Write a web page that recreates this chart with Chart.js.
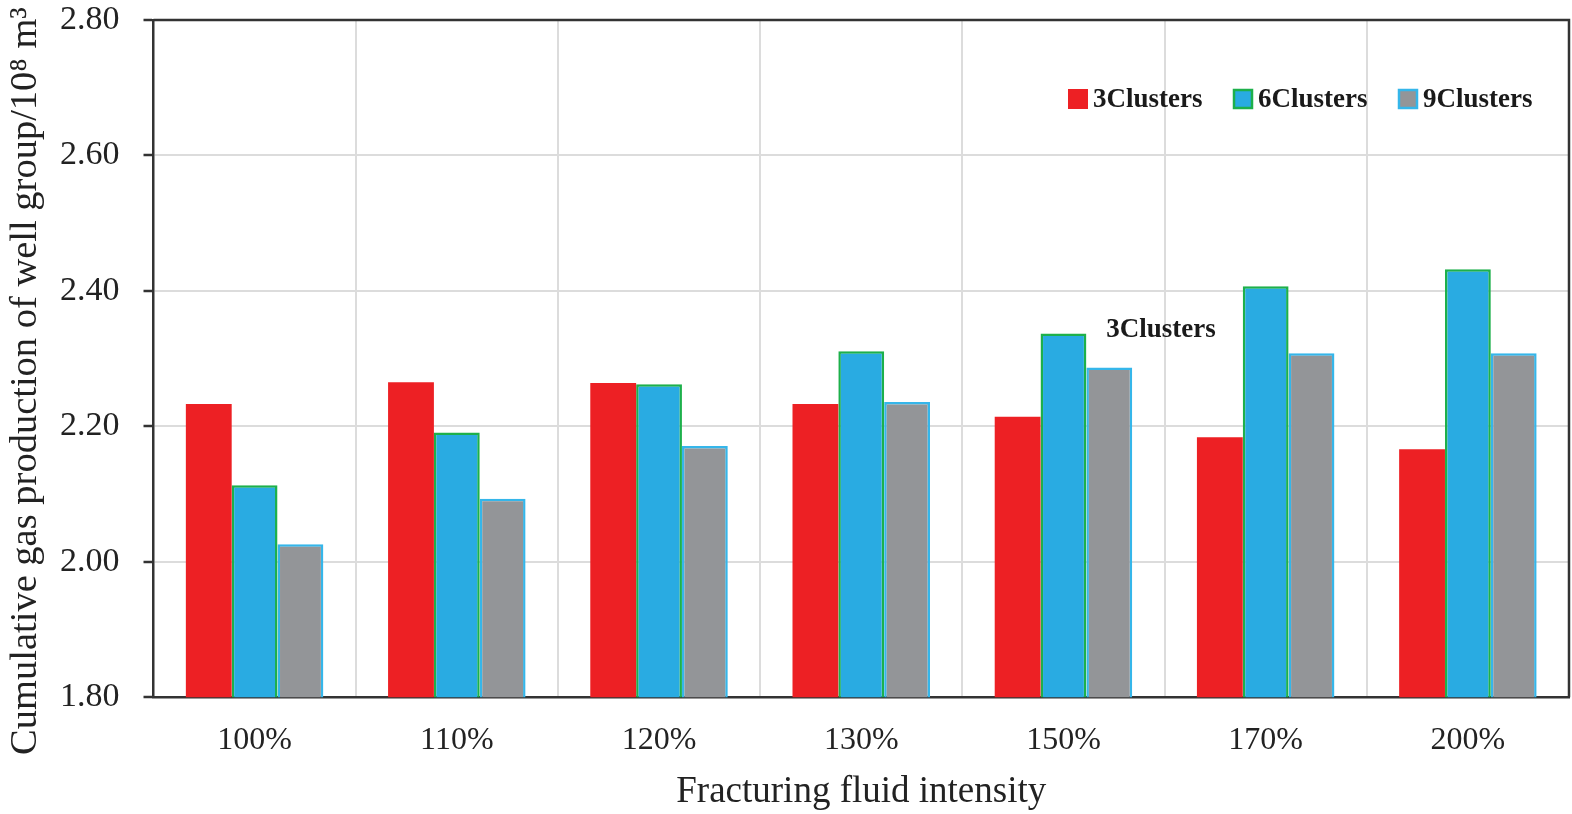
<!DOCTYPE html>
<html>
<head>
<meta charset="utf-8">
<script src="https://cdn.jsdelivr.net/npm/chart.js@4"></script>
<style>
  html, body { margin: 0; padding: 0; background: #fff; }
  #wrap { width: 1572px; height: 814px; position: relative; }
</style>
</head>
<body>
<div id="wrap"><canvas id="chart"></canvas></div>
<script>
const categories = ["100%", "110%", "120%", "130%", "150%", "170%", "200%"];
const clusters3 = [2.233, 2.265, 2.264, 2.233, 2.214, 2.184, 2.166];
const clusters6 = [2.113, 2.191, 2.262, 2.311, 2.337, 2.407, 2.432];
const clusters9 = [2.026, 2.093, 2.171, 2.236, 2.287, 2.308, 2.308];
const seriesNames = ["3Clusters", "6Clusters", "9Clusters"];
const yTicks = [1.8, 2.0, 2.2, 2.4, 2.6, 2.8];
const yTitle = "Cumulative gas production of well group/10⁸ m³";
const noteText = "3Clusters";

const serif = "'Liberation Serif', 'DejaVu Serif', serif";

// legend, stray label, y title and frame drawn on top
const overlay = {
  id: "overlay",
  afterDraw(chart) {
    const ctx = chart.ctx;
    const area = chart.chartArea;
    ctx.save();
    ctx.font = "bold 27px " + serif;
    ctx.textBaseline = "middle";
    ctx.textAlign = "left";
    const y = 99;
    const starts = [1068, 1233, 1398];
    chart.data.datasets.forEach((ds, i) => {
      const x = starts[i];
      ctx.fillStyle = ds.backgroundColor;
      ctx.fillRect(x, y - 10, 20, 20);
      if (ds.borderWidth) {
        ctx.strokeStyle = ds.borderColor;
        ctx.lineWidth = 2.5;
        ctx.strokeRect(x + 1, y - 9, 18, 18);
      }
      ctx.fillStyle = "#1a1a1a";
      ctx.fillText(ds.label, x + 25, y + 1);
    });
    ctx.textAlign = "center";
    ctx.fillText(noteText, 1161, 330);

    // y axis title, a bit below the plot centre like the original
    ctx.save();
    ctx.translate(36, 381);
    ctx.rotate(-Math.PI / 2);
    ctx.font = "38.5px " + serif;
    ctx.fillStyle = "#222";
    ctx.textAlign = "center";
    ctx.textBaseline = "alphabetic";
    ctx.fillText(yTitle, 0, 0);
    ctx.restore();

    // frame: top and right border
    ctx.strokeStyle = "#333";
    ctx.lineWidth = 2.5;
    ctx.beginPath();
    ctx.moveTo(area.left, area.top);
    ctx.lineTo(area.right, area.top);
    ctx.lineTo(area.right, area.bottom);
    ctx.stroke();
    ctx.restore();
  }
};

new Chart(document.getElementById("chart"), {
  type: "bar",
  data: {
    labels: categories,
    datasets: [
      { label: seriesNames[0], data: clusters3, backgroundColor: "#ed2024", borderWidth: 0 },
      { label: seriesNames[1], data: clusters6, backgroundColor: "#29abe2", borderColor: "#1db04b", borderWidth: 2.5, borderSkipped: "bottom" },
      { label: seriesNames[2], data: clusters9, backgroundColor: "#939598", borderColor: "#35b6ea", borderWidth: 2.5, borderSkipped: "bottom" }
    ]
  },
  options: {
    responsive: true,
    maintainAspectRatio: false,
    animation: false,
    layout: { padding: { top: 0, right: 3, left: 36, bottom: 0 } },
    datasets: { bar: { categoryPercentage: 0.68, barPercentage: 1.0 } },
    plugins: {
      legend: { display: false },
      tooltip: { enabled: false }
    },
    scales: {
      x: {
        grid: { color: "#dcdcdc", lineWidth: 2, drawTicks: false, offset: true },
        border: { color: "#333", width: 2.5 },
        ticks: { color: "#222", font: { family: serif, size: 32 }, padding: 24 },
        title: {
          display: true,
          text: "Fracturing fluid intensity",
          color: "#222",
          font: { family: serif, size: 37 },
          padding: { top: -14, bottom: 0 }
        }
      },
      y: {
        min: 1.8,
        max: 2.8,
        afterBuildTicks: (axis) => { axis.ticks = yTicks.map((v) => ({ value: v })); },
        afterFit: (axis) => { axis.paddingTop = 20; },
        grid: { color: "#dcdcdc", lineWidth: 2, tickColor: "#333", tickLength: 10, tickWidth: 2.5 },
        border: { color: "#333", width: 2.5 },
        ticks: {
          color: "#222",
          font: { family: serif, size: 34 },
          padding: 24,
          callback: (v) => Number(v).toFixed(2)
        }
      }
    }
  },
  plugins: [overlay]
});
</script>
</body>
</html>
